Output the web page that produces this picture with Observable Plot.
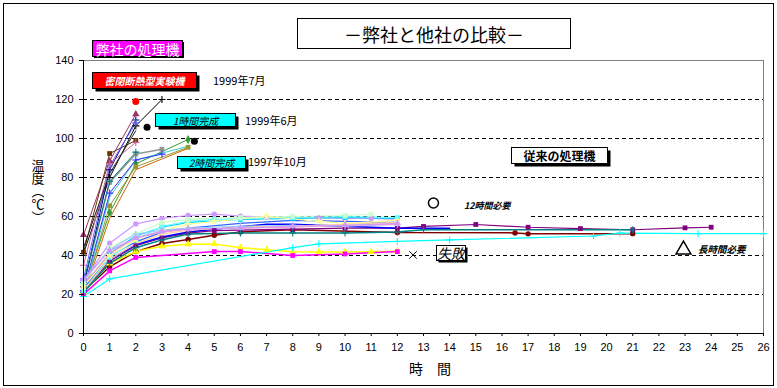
<!DOCTYPE html>
<html><head><meta charset="utf-8">
<script src="https://cdn.jsdelivr.net/npm/d3@7"></script>
<script src="https://cdn.jsdelivr.net/npm/@observablehq/plot@0.6"></script>
<style>body{margin:0;background:#fff}#c{width:777px;height:388px}</style>
</head><body><div id="c"></div>
<script>
// ---- data: [hour, temperature °C] ----
// 弊社の処理機 (our machines)
const ours01 = [[0,41],[1,80],[2,106.5],[3,120]];
const ours02 = [[0,50.5],[1,88.5],[2,112.5]];
const ours03 = [[0,41.7],[1,92.3],[2,99]];
const ours04 = [[0,25],[1,77.5],[2,92],[3,94.5]];
const ours05 = [[0,22],[1,62],[2,87],[4,99.5]];
const ours06 = [[0,20],[1,65.5],[2,85.5],[4,95.5]];
const ours07 = [[0,20.5],[1,70],[2,89],[4,96]];
const ours08 = [[0,22],[1,72],[2,89],[3,92]];
const ours09 = [[0,24],[1,84],[2,109.5]];
const ours10 = [[0,20],[1,59],[2,84],[4,95]];
const ours11 = [[0,28],[1,86],[2,108]];
const ours12 = [[0,35],[1,87],[2,98]];
const ours13 = [[0,44],[1,82],[2,104]];
const ours14 = [[0,26],[1,78],[2,93]];
const oursRed = [[2,119]];
const oursBlack = [[2.43,105.8],[4.24,98.6]];
// 従来の処理機 (conventional machines)
const conv01 = [[0,27],[1,46.3],[2,56.2],[3,59],[4,60.5],[5,61.2],[6,60.2],[7,59.8],[8,59.5],[9,59.3],[10,59],[11,59],[12,58.5]];
const conv02 = [[0,21.5],[1,34.2],[2,42],[3,46.2],[4,48.2],[5,50.4],[6,52.1],[8,53.2],[12,51.8],[16.5,51.6],[17,51.1],[21,51.2]];
const conv03 = [[0,21],[1,36],[2,42],[3,44.8],[4,45.8],[5,45.9],[6,44],[7,43],[8,41.9],[9,41.8],[10,41.8],[11,41.9],[12,42.2]];
const conv04 = [[0,20],[1,32.1],[2,39],[5,42],[6,42],[8,40],[10,40.8],[12,42]];
const conv05 = [[0,19],[1,28],[8,44],[9,46],[12,47.2],[14,48],[19.5,50],[20.5,51.5],[23.5,51.2],[26,51.2]];
const conv06 = [[0,22],[1,37],[2,45],[3,49],[4,51.5],[5,52.8],[6,53],[8,53.5],[10,54],[12,54],[13,54.9],[15,55.9],[17,54.5],[19,53.8],[21,53.2],[23,54.2],[24,54.5]];
const conv07 = [[0,21],[1,36],[2,44],[3,48],[4,51],[6,51.6],[8,51.6],[10,51.6],[12,52],[13,53.2],[21,53.2]];
const conv08 = [[0,22],[1,38],[2,45.5],[3,49.5],[4,52],[5,53.5],[7,56],[8,56],[10,55],[12,54],[14,54]];
const conv09 = [[0,23],[1,40],[2,47],[3,52],[4,54],[6,56.5],[8,58],[10,57.5],[12,57]];
const conv10 = [[0,24],[1,41],[2,50],[3,54.5],[4,57],[6,58.5],[8,59],[10,59.5],[12,59]];
const conv11 = [[0,22],[1,39],[2,48],[3,55],[4,57.5],[5,58.5],[6,59],[8,59.5],[10,60],[12,59.5]];
const conv12 = [[0,26],[1,44],[2,51],[3,57],[4,58.5],[6,59.5],[8,60],[10,60.5],[11,61.2]];
const conv13 = [[0,24],[1,40],[2,48],[3,53],[4,56],[5,57.5],[7,60],[9,57.5],[10,56.5],[12,58]];
const conv14 = [[0,27],[1,43],[2,51],[3,53],[4,54],[6,55],[8,55.5],[10,55],[12,56]];
const conv15 = [[0,25],[1,41],[2,49],[3,52],[4,53.5],[6,54],[8,54.5],[10,55.5],[12,56]];
const conv16 = [[0,22],[1,38],[2,46],[3,51],[4,53],[6,54.5],[8,55],[10,56],[12,57]];
const conv17 = [[0,28],[1,42.5],[2,49],[3,52.5],[4,53.5],[6,54],[8,55],[10,55.5],[12,56.5]];
const failedMark = [[12.6,40.3]];
const twelveHourMark = [[13.38,66.9]];
const longTimeMark = [[22.94,43]];

const xTicks = d3.range(0, 27);
const yTicks = [0,20,40,60,80,100,120,140];
const gridLevels = [20,40,60,80,100,120];

const titleText = "－弊社と他社の比較－";
const yLabelText = "温度（℃）";
const xLabelText = "時　間";
const ourLabel = "弊社の処理機";
const convLabel = "従来の処理機";
const boxLabels = ["密閉断熱型実験機", "1時間完成", "2時間完成", "失敗"];
const dateLabels = ["1999年7月", "1999年6月", "1997年10月"];
const noteLabels = ["12時間必要", "長時間必要"];

// ---- styles ----
const seriesList = [ours01,ours02,ours03,ours04,ours05,ours06,ours07,ours08,ours09,ours10,ours11,ours12,ours13,ours14,
  conv01,conv02,conv03,conv04,conv05,conv06,conv07,conv08,conv09,conv10,conv11,conv12,conv13,conv14,conv15,conv16,conv17];
const seriesColor = ["#000000","#993366","#663300","#969696","#339933","#999933","#33CCCC","#3333FF","#000080","#CC6600","#6666FF","#CC6699","#222222","#008080",
  "#CC99FF","#800000","#FFFF00","#FF00FF","#00FFFF","#800080","#008080","#0000FF","#3366FF","#00CCFF","#66FFFF","#CCFFCC","#FFFF99","#99CCFF","#FF99CC","#FFCC99","#CC99FF"];
const seriesSymbol = ["plus","triangle","square","square","diamond","square","none","plus","plus","none","plus","plus","none","plus",
  "circle","circle","triangle","square","plus","square","plus","none","none","square","square","square","star","plus","none","none","triangle"];
const seriesWidth = [1,1,1,1.5,1,1,1,1,1,1,1,1,1,1, 1.2,1.5,1.5,1.5,1.2,1.2,1.5,1.5,1.2,1.2,1.2,1.2,1.2,1.2,1.2,1.2,1.2];
const strokeSymbols = new Set(["plus","times"]);
const JP = "'Noto Sans CJK JP', 'Noto Sans', sans-serif";

const marks = [
  Plot.ruleY(gridLevels, {stroke:"#000", strokeDasharray:"4,3", strokeWidth:1}),
  Plot.ruleY([140], {stroke:"#808080"}),
  Plot.ruleX([26], {stroke:"#808080"})
];
seriesList.forEach((s, i) => {
  marks.push(Plot.line(s, {x: d => d[0], y: d => d[1], stroke: seriesColor[i], strokeWidth: seriesWidth[i]}));
});
seriesList.forEach((s, i) => {
  const sym = seriesSymbol[i];
  if (sym === "none") return;
  if (strokeSymbols.has(sym)) marks.push(Plot.dot(s, {x: d => d[0], y: d => d[1], symbol: sym, stroke: seriesColor[i], r: 2.4, strokeWidth: 1.1}));
  else marks.push(Plot.dot(s, {x: d => d[0], y: d => d[1], symbol: sym, fill: seriesColor[i], r: 2.7}));
});
marks.push(
  Plot.dot(oursRed, {x: d => d[0], y: d => d[1], fill: "#FF0000", r: 3.5}),
  Plot.dot(oursBlack, {x: d => d[0], y: d => d[1], fill: "#000", r: 3.5}),
  Plot.dot(failedMark, {x: d => d[0], y: d => d[1], symbol: "times", stroke: "#000", r: 3.5, strokeWidth: 1}),
  Plot.dot(twelveHourMark, {x: d => d[0], y: d => d[1], symbol: "circle", stroke: "#000", fill: "none", r: 5}),
  Plot.dot(longTimeMark, {x: d => d[0], y: d => d[1], symbol: "triangle", stroke: "#000", fill: "white", r: 5.5}),
  Plot.ruleX([0], {stroke:"#000"}),
  Plot.ruleY([0], {stroke:"#000"}),
  Plot.axisX({ticks: xTicks, tickSize: 3, tickPadding: 7, label: null}),
  Plot.axisY({ticks: yTicks, tickSize: 4, tickPadding: 6, label: null})
);

const plot = Plot.plot({
  width: 777, height: 388,
  marginLeft: 83, marginRight: 14, marginTop: 60, marginBottom: 55,
  x: {domain: [0, 26]},
  y: {domain: [0, 140]},
  style: {fontFamily: "'Liberation Sans', Arial, sans-serif", fontSize: "11px", background: "white", color: "black"},
  marks
});
document.getElementById("c").appendChild(plot);

// ---- annotations ----
const svg = d3.select(plot);
const g = svg.append("g");

function box(x, y, w, h, fill, shadow) {
  if (shadow) g.append("rect").attr("x", x + shadow).attr("y", y + shadow).attr("width", w).attr("height", h).attr("fill", "#000");
  g.append("rect").attr("x", x).attr("y", y).attr("width", w).attr("height", h).attr("fill", fill).attr("stroke", "#000").attr("stroke-width", 1);
}
function text(x, y, str, opts = {}) {
  const t = g.append("text").attr("x", x).attr("y", y).text(str)
    .attr("font-family", opts.family || JP)
    .attr("font-size", opts.size || 11)
    .attr("fill", opts.fill || "#000")
    .attr("text-anchor", opts.anchor || "start")
    .attr("dominant-baseline", "central");
  if (opts.italic) t.attr("font-style", "italic");
  if (opts.bold) t.attr("font-weight", "bold");
  return t;
}

// gap in the 60 gridline behind the note
g.append("rect").attr("x", 448).attr("y", 213).attr("width", 82).attr("height", 6).attr("fill", "white");

// outer frame
g.append("rect").attr("x", 3.5).attr("y", 3.5).attr("width", 770).attr("height", 382).attr("fill", "none").attr("stroke", "#000");

// title
box(297.5, 18.5, 273, 30, "white", 0);
text(434, 34, titleText, {size: 18, anchor: "middle"});

// our machines label
box(92.5, 40.5, 90, 16, "#FF00FF", 1.5);
text(137.5, 49, ourLabel, {size: 14, anchor: "middle", fill: "#fff"});

// red box
box(92.5, 72.5, 104, 16, "#FF0000", 3);
text(144.5, 80.5, boxLabels[0], {size: 10, anchor: "middle", fill: "#fff", bold: true, italic: true});
text(213, 80, dateLabels[0], {size: 11});

// cyan 1
box(155.5, 113.5, 80, 13, "#00FFFF", 3);
text(195.5, 120.5, boxLabels[1], {size: 10, anchor: "middle", italic: true});
text(245, 120, dateLabels[1], {size: 11});

// cyan 2
box(177.5, 156.5, 68, 12, "#00FFFF", 3);
text(211.5, 162.5, boxLabels[2], {size: 10, anchor: "middle", italic: true});
text(248, 161, dateLabels[2], {size: 11});

// conventional label
box(511.5, 147.5, 96, 16, "white", 3);
text(559.5, 155.5, convLabel, {size: 12, anchor: "middle", bold: true});

// failure
box(436.5, 245.5, 29, 15, "white", 2);
text(451, 253, boxLabels[3], {size: 14, anchor: "middle", italic: true});

// notes
text(464, 205, noteLabels[0], {size: 9, italic: true, bold: true});
text(698, 249, noteLabels[1], {size: 9.5, italic: true, bold: true});

// axis titles
g.append("text").attr("x", 38).attr("y", 191).text(yLabelText)
  .attr("font-family", JP).attr("font-size", 13).attr("fill", "#000")
  .attr("text-anchor", "middle").style("writing-mode", "vertical-rl");
text(430, 368, xLabelText, {size: 14, anchor: "middle"});
</script></body></html>
